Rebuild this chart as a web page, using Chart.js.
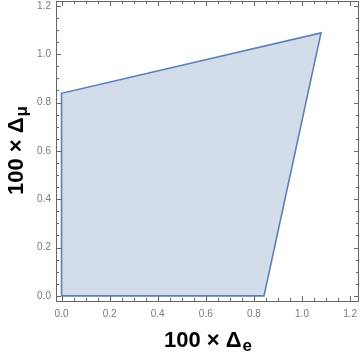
<!DOCTYPE html>
<html lang="en-US">
<head>
    <meta charset="UTF-8">
    <title>region</title>
    <style>
        html, body { margin: 0; padding: 0; background: #fff; }
        #wrap { width: 360px; height: 354px; }
    </style>
</head>
<body>
    <div id="wrap">
        <canvas id="regionChart"></canvas>
    </div>
    <script src="https://cdn.jsdelivr.net/npm/chart.js"></script>
    <script>
        // polygon corners, in drawing order (closed back to the start)
        const deltaE = [0, 0.842, 1.079, 0, 0]
        const deltaMu = [0, 0, 1.088, 0.838, 0]
        const tickValues = [0, 0.2, 0.4, 0.6, 0.8, 1.0, 1.2]
        const xTitle = ['100 \u00d7 \u0394', 'e']
        const yTitle = ['100 \u00d7 \u0394', '\u03bc']

        const points = deltaE.map((x, i) => ({ x: x, y: deltaMu[i] }))

        // frame with inward ticks on all four sides, like Mathematica's Frame
        const framePlugin = {
            id: 'frame',
            afterDraw(chart) {
                const { ctx, chartArea: a, scales } = chart
                ctx.save()
                ctx.strokeStyle = '#666'
                ctx.lineWidth = 1
                ctx.strokeRect(a.left + 0.5, a.top + 0.5, a.right - a.left - 1, a.bottom - a.top)
                ctx.beginPath()
                for (let k = 0; k <= 25; k++) {
                    const v = k * 0.05
                    const len = k % 4 === 0 ? 5 : 3
                    const px = Math.round(scales.x.getPixelForValue(v)) + 0.5
                    if (px > a.left && px < a.right) {
                        ctx.moveTo(px, a.bottom); ctx.lineTo(px, a.bottom - len)
                        ctx.moveTo(px, a.top); ctx.lineTo(px, a.top + len)
                    }
                    const py = Math.round(scales.y.getPixelForValue(v)) + 0.5
                    if (py > a.top && py < a.bottom) {
                        ctx.moveTo(a.left, py); ctx.lineTo(a.left + len, py)
                        ctx.moveTo(a.right, py); ctx.lineTo(a.right - len, py)
                    }
                }
                ctx.stroke()

                // axis titles with subscripts
                ctx.fillStyle = '#000'
                ctx.textBaseline = 'alphabetic'
                const drawTitle = (parts, cx, baseY) => {
                    ctx.font = 'bold 22px "Liberation Sans", Arial, sans-serif'
                    const w1 = ctx.measureText(parts[0]).width
                    ctx.font = 'bold 17px "Liberation Sans", Arial, sans-serif'
                    const w2 = ctx.measureText(parts[1]).width
                    const x0 = cx - (w1 + w2) / 2
                    ctx.font = 'bold 22px "Liberation Sans", Arial, sans-serif'
                    ctx.fillText(parts[0], x0, baseY)
                    ctx.font = 'bold 17px "Liberation Sans", Arial, sans-serif'
                    ctx.fillText(parts[1], x0 + w1 + 1, baseY + 4)
                }
                drawTitle(xTitle, (a.left + a.right) / 2, 347)
                ctx.save()
                ctx.translate(23, (a.top + a.bottom) / 2)
                ctx.rotate(-Math.PI / 2)
                drawTitle(yTitle, 0, 0)
                ctx.restore()
                ctx.restore()
            }
        }

        const tickFont = { family: '"Liberation Sans", Arial, sans-serif', size: 10 }

        const ctx = document.getElementById('regionChart').getContext('2d')
        new Chart(ctx, {
            type: 'scatter',
            data: {
                datasets: [{
                    data: points,
                    showLine: true,
                    borderColor: '#5e81b5',
                    borderWidth: 1.6,
                    backgroundColor: 'rgba(94, 129, 181, 0.28)',
                    fill: 'shape',
                    pointRadius: 0,
                    tension: 0
                }]
            },
            options: {
                responsive: true,
                maintainAspectRatio: false,
                animation: false,
                layout: { padding: { top: 1, right: 1, left: 0, bottom: 0 } },
                plugins: { legend: { display: false }, tooltip: { enabled: false } },
                scales: {
                    x: {
                        type: 'linear',
                        min: -0.023,
                        max: 1.237,
                        grid: { display: false, drawTicks: false },
                        border: { display: false },
                        afterFit(scale) {
                            scale.height = 53
                            scale.paddingLeft = 0
                            scale.paddingRight = 0
                        },
                        afterBuildTicks(scale) { scale.ticks = tickValues.map(v => ({ value: v })) },
                        ticks: {
                            padding: 7,
                            color: '#7a7a7a',
                            font: tickFont,
                            maxRotation: 0,
                            callback: v => v.toFixed(1)
                        }
                    },
                    y: {
                        type: 'linear',
                        min: -0.021,
                        max: 1.22,
                        grid: { display: false, drawTicks: false },
                        border: { display: false },
                        afterFit(scale) {
                            scale.width = 56
                            scale.paddingTop = 0
                            scale.paddingBottom = 0
                        },
                        afterBuildTicks(scale) { scale.ticks = tickValues.map(v => ({ value: v })) },
                        ticks: {
                            padding: 5,
                            color: '#7a7a7a',
                            font: tickFont,
                            callback: v => v.toFixed(1)
                        }
                    }
                }
            },
            plugins: [framePlugin]
        })
    </script>
</body>
</html>
